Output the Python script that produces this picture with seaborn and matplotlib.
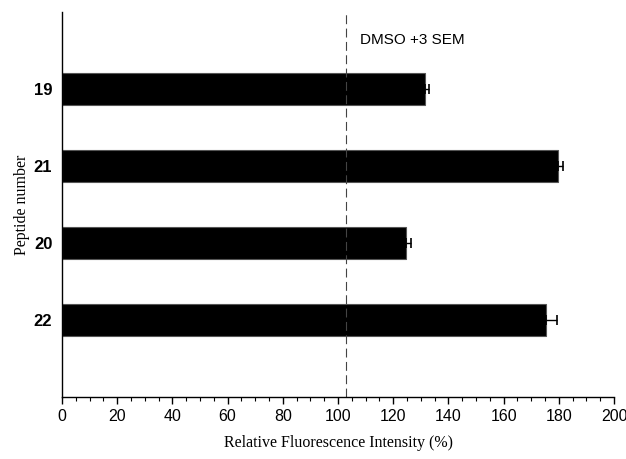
import matplotlib
matplotlib.use("Agg")
import matplotlib.pyplot as plt
from matplotlib.ticker import MultipleLocator
import pandas as pd
import seaborn as sns

peptides = ["19", "21", "20", "22"]
intensity = [131.5, 179.8, 124.5, 175.5]
sem = [1.6, 1.8, 1.8, 3.8]
dmso_line = 103.0

df = pd.DataFrame({"peptide": peptides, "intensity": intensity, "sem": sem})

sns.set_theme(style="white")
plt.rcParams["text.color"] = "black"
plt.rcParams["axes.labelcolor"] = "black"
plt.rcParams["xtick.color"] = "black"
plt.rcParams["ytick.color"] = "black"

fig = plt.figure(figsize=(6.26, 4.59), dpi=100)
ax = fig.add_axes([62 / 626, 62 / 459, 552 / 626, 385 / 459])

sns.barplot(data=df, x="intensity", y="peptide", order=peptides, orient="h",
            color="black", edgecolor="#555555", linewidth=0.8, width=0.42,
            errorbar=None, ax=ax)
ax.errorbar(df["intensity"], range(len(peptides)),
            xerr=[[0] * len(sem), df["sem"]], fmt="none",
            ecolor="black", elinewidth=1, capsize=3.5, capthick=1.2)

ax.axvline(dmso_line, color="#444444", linestyle=(0, (8, 4)), linewidth=0.8)
ax.text(108, -0.63, "DMSO +3 SEM", fontsize=11, family="Liberation Sans",
        ha="left", va="center", color="black")

ax.set_xlim(0, 200)
ax.set_ylim(4, -1)
ax.xaxis.set_major_locator(MultipleLocator(20))
ax.xaxis.set_minor_locator(MultipleLocator(5))
ax.tick_params(axis="x", which="major", direction="out", length=5, width=1,
               bottom=True, labelsize=11.5, color="black", labelcolor="black")
ax.tick_params(axis="x", which="minor", direction="out", length=3, width=0.8,
               bottom=True, color="black")
ax.tick_params(axis="y", left=False, pad=1, labelcolor="black")
for lab in ax.get_xticklabels():
    lab.set_family("Liberation Sans")
for lab in ax.get_yticklabels():
    lab.set_family("Liberation Sans")
    lab.set_fontweight("bold")
    lab.set_fontsize(12)

ax.set_xlabel("Relative Fluorescence Intensity (%)", family="Liberation Serif",
              fontsize=11.5, labelpad=8, color="black")
ax.set_ylabel("Peptide number", family="Liberation Serif", fontsize=11.5,
              labelpad=3, color="black")

sns.despine(ax=ax)
for side in ["left", "bottom"]:
    ax.spines[side].set_color("black")
    ax.spines[side].set_linewidth(1)

fig.savefig("out.png", dpi=100)
